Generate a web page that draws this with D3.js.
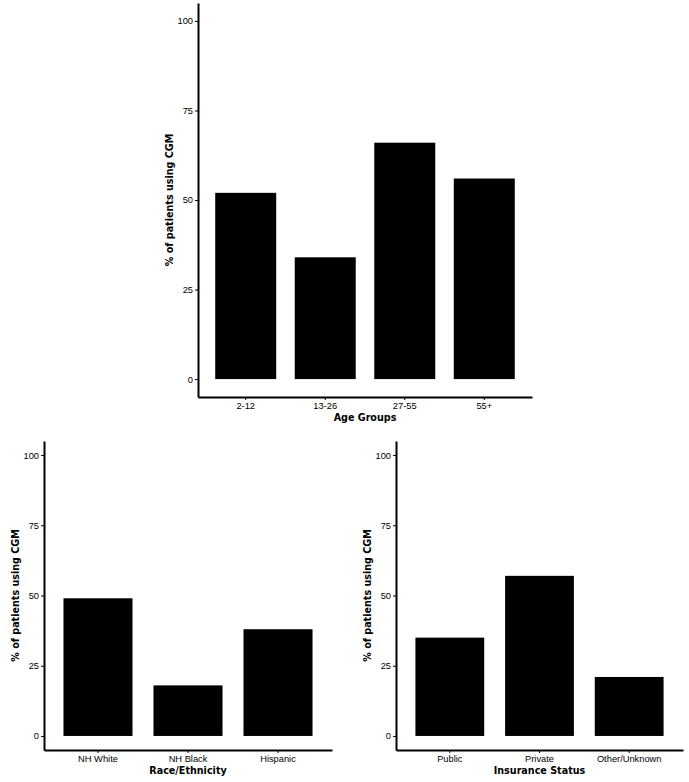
<!DOCTYPE html>
<meta charset="utf-8">
<style>
body { margin: 0; background: #fff; }
svg { display: block; font-family: "DejaVu Sans", sans-serif; }
.axis path, .axis line { stroke: #000; }
.axis path { stroke-width: 2px; }
.axis line { stroke-width: 1px; }
.axis text { fill: #000; font-size: 9.3px; }
.title { font-size: 9.6px; font-weight: bold; text-anchor: middle; }
</style>
<svg width="689" height="782"></svg>
<script src="https://cdn.jsdelivr.net/npm/d3@7"></script>
<script>

var ageGroups = ["2-12", "13-26", "27-55", "55+"],
    ageValues = [52, 34, 66, 56];

var raceGroups = ["NH White", "NH Black", "Hispanic"],
    raceValues = [49, 18, 38];

var insuranceGroups = ["Public", "Private", "Other/Unknown"],
    insuranceValues = [35, 57, 21];

var yTicks = [0, 25, 50, 75, 100];

var svg = d3.select("svg");

var panels = [
  {cats: ageGroups, vals: ageValues, xTitle: "Age Groups", left: 198, right: 532, top: 3, bottom: 397},
  {cats: raceGroups, vals: raceValues, xTitle: "Race/Ethnicity", left: 44, right: 332, top: 441, bottom: 750},
  {cats: insuranceGroups, vals: insuranceValues, xTitle: "Insurance Status", left: 396, right: 683, top: 441, bottom: 750}
];

panels.forEach(function(p) {
  // ggplot-like discrete expansion: 0.6 units each side, bars ~0.77 wide
  var x = d3.scaleBand()
      .domain(p.cats)
      .range([p.left, p.right])
      .paddingInner(0.233)
      .paddingOuter((0.2 + 0.233) / 2);

  var y = d3.scaleLinear()
      .domain([-5, 105])
      .range([p.bottom, p.top]);

  var data = p.cats.map(function(c, i) { return {cat: c, value: p.vals[i]}; });

  svg.append("g")
    .selectAll("rect")
    .data(data)
    .enter().append("rect")
      .attr("x", function(d) { return x(d.cat); })
      .attr("width", x.bandwidth())
      .attr("y", function(d) { return y(d.value); })
      .attr("height", function(d) { return y(0) - y(d.value); })
      .attr("fill", "#000");

  svg.append("g")
      .attr("class", "axis")
      .attr("transform", "translate(" + p.left + ",0)")
      .call(d3.axisLeft(y).tickValues(yTicks).tickSize(3).tickSizeOuter(0).tickPadding(2));

  svg.append("g")
      .attr("class", "axis")
      .attr("transform", "translate(0," + p.bottom + ")")
      .call(d3.axisBottom(x).tickSize(3).tickSizeOuter(0).tickPadding(2));

  svg.append("text")
      .attr("class", "title")
      .attr("x", (p.left + p.right) / 2)
      .attr("y", p.bottom + 24)
      .text(p.xTitle);

  svg.append("text")
      .attr("class", "title")
      .attr("transform", "translate(" + (p.left - 25) + "," + y(50) + ") rotate(-90)")
      .text("% of patients using CGM");
});

</script>
